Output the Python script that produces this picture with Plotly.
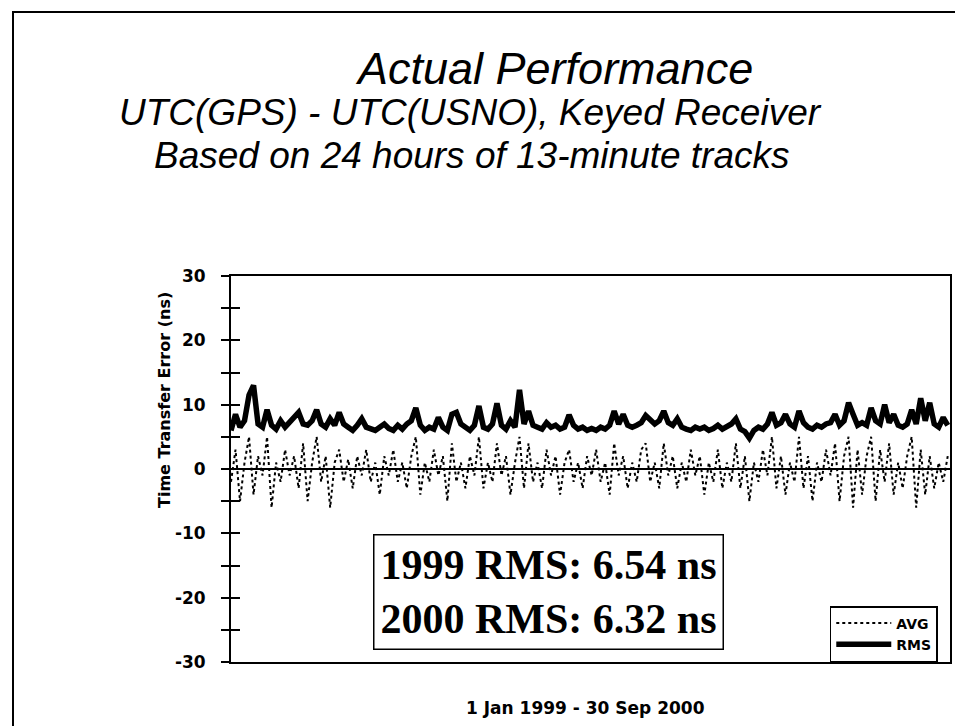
import plotly.graph_objects as go

# Day index (every 4th day from 1 Jan 1999 to 30 Sep 2000)
DAYS = list(range(0, 640, 4))

RMS = [
    6.0, 8.5, 6.5, 7.5, 11.5, 13.0, 7.0, 6.5, 9.2, 6.8,
    6.2, 7.5, 6.5, 7.2, 7.8, 8.8, 7.0, 6.8, 7.5, 9.2,
    7.0, 6.5, 7.8, 6.8, 8.8, 7.0, 6.5, 6.0, 6.8, 7.8,
    6.5, 6.2, 6.0, 6.5, 7.0, 6.3, 6.0, 6.8, 6.2, 7.0,
    7.5, 9.5, 6.8, 6.0, 6.5, 6.2, 8.0, 6.5, 6.0, 8.5,
    8.8, 7.0, 6.5, 6.0, 6.8, 9.8, 6.5, 6.2, 7.0, 10.2,
    6.8, 6.2, 7.5, 6.5, 12.3, 7.0, 9.0, 6.8, 6.5, 6.2,
    7.2, 6.5, 6.8, 6.2, 6.5, 8.4, 6.8, 6.2, 6.5, 6.0,
    6.3, 6.0, 6.5, 6.2, 6.8, 9.0, 7.0, 8.5, 6.8, 6.5,
    6.8, 7.2, 8.3, 7.5, 7.0, 7.5, 9.0, 7.2, 6.8, 7.8,
    6.5, 6.2, 6.0, 6.5, 6.2, 6.5, 6.0, 6.3, 6.8, 6.2,
    6.5, 7.0, 7.8, 6.2, 5.8, 4.8, 6.0, 6.5, 6.2, 7.0,
    8.8, 6.8, 7.2, 8.5, 7.0, 6.5, 9.0, 7.2, 6.5, 6.2,
    6.8, 6.5, 7.0, 7.2, 8.5, 6.8, 7.5, 10.3, 8.5, 6.8,
    7.2, 6.8, 9.5, 7.5, 7.0, 10.0, 7.2, 8.5, 6.8, 6.5,
    7.0, 9.2, 7.0, 11.0, 7.5, 10.3, 7.0, 6.5, 8.0, 6.8,
]

AVG = [
    -2, 3, -5, 1, 5, -4, 2, -1, 5, -6,
    1, -2, 3, -1, 2, -3, 4, -5, 1, 5,
    -2, 2, -6, 1, 3, -2, 1.5, -3, 2, -1,
    3, -2, 1, -4, 2, -1, 3, -2, 1, -3,
    2, 5, -4, 1, -2, 3, -1, 2, -5, 4,
    -2, 1, -3, 2, -1, 5, -3, 1, -2, 4,
    -1, 2, -4, 1, 5, -3, 4, -2, 1, -3,
    3, -1, 2, -4, 1, 3, -2, 1, -3, 2,
    -1, 3, -2, 1, -4, 4, -1, 2, -3, 1,
    -2, 3, 4, -2, 1, -3, 4, -1, 2, -3,
    1, -2, 3, -1, 2, -4, 1, -2, 3, -3,
    1, -2, 4, -3, 2, -5, 1, -2, 3, -1,
    5, -3, 2, -4, 1, -2, 5, -3, 2, -5,
    1, -2, 3, -1, 4, -5, 2, 5, -6, 3,
    -4, 2, 5, -5, 3, -2, 4, -4, 1, -3,
    2, 5, -6, 3, -4, 2, -3, 1, -2, 2,
]

Y_TICKS = [-30, -20, -10, 0, 10, 20, 30]
Y_TICK_TEXT = ["-30", "-20", "-10", "0", "10", "20", "30"]

TITLE = "Actual Performance"
SUB1 = "UTC(GPS) - UTC(USNO), Keyed Receiver"
SUB2 = "Based on 24 hours of 13-minute tracks"
Y_TITLE = "Time Transfer Error (ns)"
X_TITLE = "1 Jan 1999 - 30 Sep 2000"
BOX_TEXT = "1999 RMS: 6.54 ns<br>2000 RMS: 6.32 ns"

SANS_B = "DejaVu Sans"
TITLE_FONT = "Liberation Sans"

fig = go.Figure()
fig.add_trace(go.Scatter(x=DAYS, y=AVG, mode="lines", name="AVG",
                         line=dict(color="black", width=2, dash="dot")))
fig.add_trace(go.Scatter(x=DAYS, y=RMS, mode="lines", name="RMS",
                         line=dict(color="black", width=5.5)))
# invisible trace to carry the inner tick axis
fig.add_trace(go.Scatter(x=[None], y=[None], yaxis="y2", showlegend=False,
                         hoverinfo="skip"))

fig.update_layout(
    width=963, height=726,
    margin=dict(l=223, r=21, t=268, b=72),
    paper_bgcolor="white", plot_bgcolor="white",
    showlegend=True,
    xaxis=dict(range=[0, 638], showgrid=False, zeroline=False,
               showticklabels=False, ticks="", showline=True,
               linecolor="black", linewidth=2, mirror=True),
    yaxis=dict(range=[-30, 30], tickvals=Y_TICKS, ticktext=Y_TICK_TEXT,
               ticks="outside", ticklen=8, tickwidth=2, tickcolor="black",
               minor=dict(dtick=5, tick0=0, ticks="outside", ticklen=8,
                          tickwidth=2, tickcolor="black"),
               showline=True, linecolor="black", linewidth=2, mirror=True,
               zeroline=True, zerolinecolor="black", zerolinewidth=2,
               showgrid=False, ticklabelstandoff=12,
               tickfont=dict(family=SANS_B, size=17, color="black", weight="bold")),
    yaxis2=dict(range=[-30, 30], overlaying="y", side="left", anchor="x",
                tickvals=Y_TICKS, ticks="inside", ticklen=9, tickwidth=2,
                tickcolor="black",
                minor=dict(dtick=5, tick0=0, ticks="inside", ticklen=9,
                           tickwidth=2, tickcolor="black"),
                showticklabels=False, showgrid=False, zeroline=False,
                showline=False),
    legend=dict(x=0.983, xanchor="right", y=0.0, yanchor="bottom",
                bordercolor="black", borderwidth=1.5, bgcolor="white",
                font=dict(family=SANS_B, size=14, color="black", weight="bold"),
                itemwidth=55, tracegroupgap=0),
)

def py(pix):
    return (654 - pix) / 386.0

def px(pix):
    return (pix - 223) / 719.0

ann = [
    dict(text=TITLE, x=px(546), y=py(60), font=dict(family=TITLE_FONT, size=45, style="italic", color="black")),
    dict(text=SUB1, x=px(462), y=py(104), font=dict(family=TITLE_FONT, size=37, style="italic", color="black")),
    dict(text=SUB2, x=px(464), y=py(147), font=dict(family=TITLE_FONT, size=37, style="italic", color="black")),
    dict(text=Y_TITLE, x=px(156), y=py(392), textangle=-90,
         font=dict(family=SANS_B, size=16, color="black", weight="bold")),
    dict(text=X_TITLE, x=px(577), y=py(700),
         font=dict(family=SANS_B, size=17, color="black", weight="bold")),
]
for a in ann:
    fig.add_annotation(xref="paper", yref="paper", showarrow=False,
                       xanchor="center", yanchor="middle", **a)

fig.add_annotation(xref="paper", yref="paper", showarrow=False,
                   text=BOX_TEXT, x=px(540), y=py(642), xanchor="center",
                   yanchor="bottom", bordercolor="black", borderwidth=1.5,
                   borderpad=6, bgcolor="white", align="left",
                   font=dict(family="Liberation Serif, Times New Roman, serif",
                             size=42, color="black", weight="bold"))

fig.add_shape(type="rect", xref="paper", yref="paper",
              x0=px(5), x1=px(956), y0=py(722), y1=py(4),
              line=dict(color="black", width=2), fillcolor="rgba(0,0,0,0)",
              layer="above")

fig.write_html("out.html")
